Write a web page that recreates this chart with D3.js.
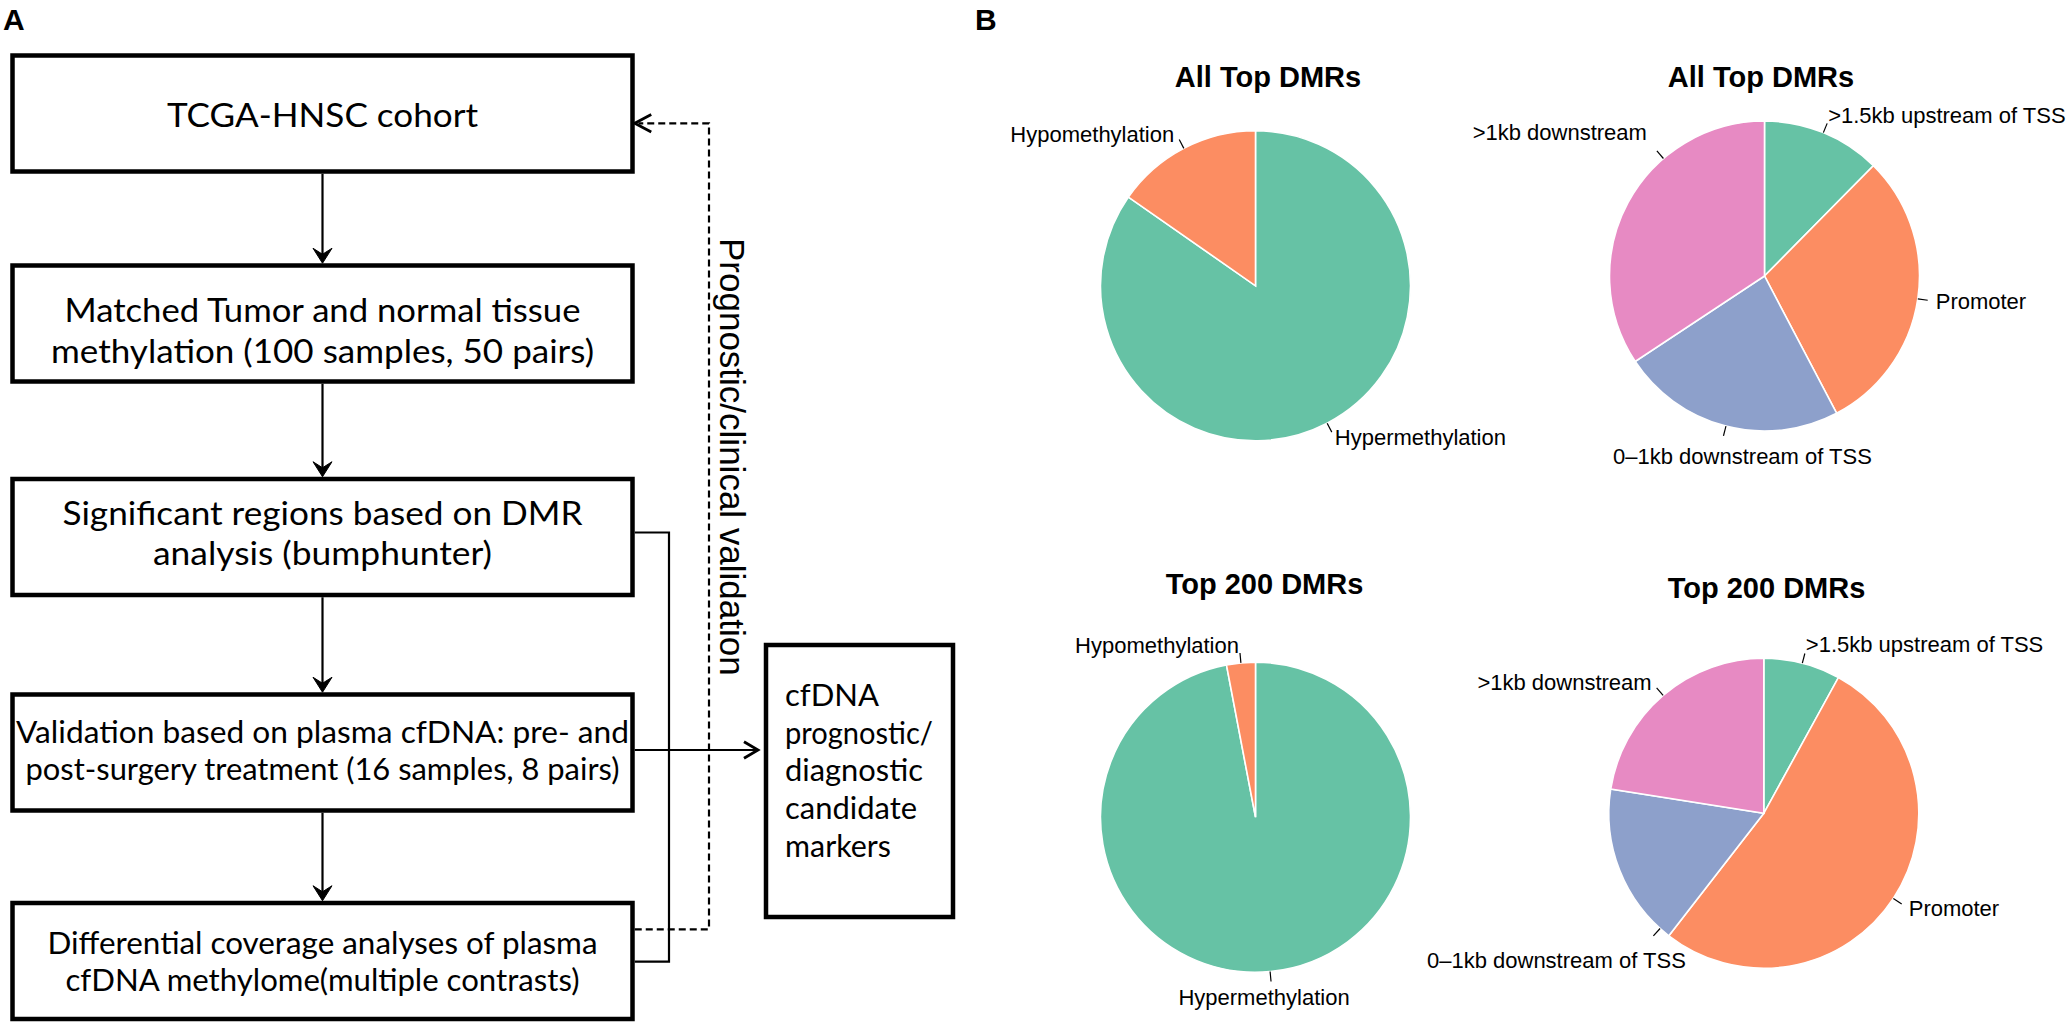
<!DOCTYPE html>
<html>
<head>
<meta charset="utf-8">
<script src="https://cdn.jsdelivr.net/npm/d3@7"></script>
<style>
  html, body { margin: 0; padding: 0; background: #fff; }
  svg { display: block; }
</style>
</head>
<body>
<script>
// ---------------- DATA ----------------
const panelLabels = ["A", "B"];

const flowSteps = [
  ["TCGA-HNSC cohort"],
  ["Matched Tumor and normal tissue", "methylation (100 samples, 50 pairs)"],
  ["Significant regions based on DMR", "analysis (bumphunter)"],
  ["Validation based on plasma cfDNA: pre- and", "post-surgery treatment (16 samples, 8 pairs)"],
  ["Differential coverage analyses of plasma", "cfDNA methylome(multiple contrasts)"]
];
const outcomeLines = ["cfDNA", "prognostic/", "diagnostic", "candidate", "markers"];
const feedbackLabel = "Prognostic/clinical validation";

const pieTitles = ["All Top DMRs", "All Top DMRs", "Top 200 DMRs", "Top 200 DMRs"];
const methCategories = ["Hypermethylation", "Hypomethylation"];
const methAllTop = [84.7, 15.3];
const methTop200 = [194, 6];
const regionCategories = [">1.5kb upstream of TSS", "Promoter", "0\u20131kb downstream of TSS", ">1kb downstream"];
const regionAllTop = [12.4, 29.9, 23.4, 34.3];
const regionTop200 = [16, 105, 34, 45];

// ---------------- LAYOUT ----------------
const W = 2070, H = 1023;
const svg = d3.select("body").append("svg").attr("width", W).attr("height", H);
svg.append("rect").attr("width", W).attr("height", H).attr("fill", "#fff");

const boxFont = "Lato, 'Open Sans', sans-serif";
const labFont = "'Liberation Sans', Arial, sans-serif";

// panel letters
const letterPos = [[3, 30], [975, 30]];
panelLabels.forEach((t, i) => {
  svg.append("text").attr("x", letterPos[i][0]).attr("y", letterPos[i][1])
    .attr("font-family", labFont).attr("font-weight", "bold").attr("font-size", 30)
    .text(t);
});

// ---- Panel A: flow chart ----
const boxX0 = 12.5, boxX1 = 632.5, boxH = 116;
const boxTops = [55.5, 265.5, 479, 694.5, 903];
const boxStroke = 4.5;
const cx = (boxX0 + boxX1) / 2;
// per-line typographic layout: [baseline offset from box top, target width, font size]
const lineLayout = [
  [[71.5, 311, 32]],
  [[56.5, 516, 32], [97.5, 543, 32]],
  [[46, 520, 32], [86, 339, 32]],
  [[48.5, 613, 30], [85.5, 594, 30]],
  [[51, 550, 30], [88, 514, 30]]
];

const gA = svg.append("g");
flowSteps.forEach((lines, i) => {
  const top = boxTops[i];
  gA.append("rect").attr("x", boxX0).attr("y", top)
    .attr("width", boxX1 - boxX0).attr("height", boxH)
    .attr("fill", "none").attr("stroke", "#000").attr("stroke-width", boxStroke);
  lines.forEach((ln, j) => {
    const [off, tw, fs] = lineLayout[i][j];
    gA.append("text").attr("x", cx).attr("y", top + off)
      .attr("text-anchor", "middle")
      .attr("font-family", boxFont).attr("font-size", fs)
      .attr("textLength", tw).attr("lengthAdjust", "spacingAndGlyphs")
      .text(ln);
  });
});

// arrow heads
function stealth(tipX, tipY, dirX, dirY, len, half, notch) {
  const px = -dirY, py = dirX;
  const bx = tipX - dirX * len, by = tipY - dirY * len;
  const nx = tipX - dirX * (len - notch), ny = tipY - dirY * (len - notch);
  return `M${tipX},${tipY} L${bx + px * half},${by + py * half} L${nx},${ny} L${bx - px * half},${by - py * half} Z`;
}
function openHead(tipX, tipY, dirX, dirY, len, half) {
  const px = -dirY, py = dirX;
  const bx = tipX - dirX * len, by = tipY - dirY * len;
  return `M${bx + px * half},${by + py * half} L${tipX},${tipY} L${bx - px * half},${by - py * half}`;
}
for (let i = 0; i < boxTops.length - 1; i++) {
  const y0 = boxTops[i] + boxH + boxStroke / 2;
  const y1 = boxTops[i + 1] - boxStroke / 2;
  gA.append("line").attr("x1", cx).attr("x2", cx).attr("y1", y0).attr("y2", y1 - 4)
    .attr("stroke", "#000").attr("stroke-width", 2.2);
  gA.append("path").attr("d", stealth(cx, y1, 0, 1, 15, 9.5, 6))
    .attr("fill", "#000").attr("stroke", "#000").attr("stroke-width", 1);
}

// outcome box
const outX0 = 766, outX1 = 953, outY0 = 645, outY1 = 917;
gA.append("rect").attr("x", outX0).attr("y", outY0)
  .attr("width", outX1 - outX0).attr("height", outY1 - outY0)
  .attr("fill", "none").attr("stroke", "#000").attr("stroke-width", boxStroke);
const outWidths = [94, 148, 138, 132, 106];
const outBase0 = 706, outStep = 37.7;
outcomeLines.forEach((ln, j) => {
  gA.append("text").attr("x", 785).attr("y", outBase0 + j * outStep)
    .attr("font-family", boxFont).attr("font-size", 30)
    .attr("textLength", outWidths[j]).attr("lengthAdjust", "spacingAndGlyphs")
    .text(ln);
});

// horizontal arrow from validation box to outcome box
const arrowY = 750;
gA.append("line").attr("x1", boxX1 + boxStroke / 2).attr("x2", 757).attr("y1", arrowY).attr("y2", arrowY)
  .attr("stroke", "#000").attr("stroke-width", 2.2);
gA.append("path").attr("d", openHead(758, arrowY, 1, 0, 14, 8.3))
  .attr("fill", "none").attr("stroke", "#000").attr("stroke-width", 2.8);

// solid bracket linking DMR box and coverage box
const bracketX = 669;
gA.append("path")
  .attr("d", `M${boxX1 + boxStroke / 2},532.5 H${bracketX} V961.7 H${boxX1 + boxStroke / 2}`)
  .attr("fill", "none").attr("stroke", "#000").attr("stroke-width", 2.2);

// dashed feedback line
const dashX = 709;
gA.append("path")
  .attr("d", `M${boxX1 + boxStroke / 2},929.3 H${dashX} V123.3 H${boxX1 + 6}`)
  .attr("fill", "none").attr("stroke", "#000").attr("stroke-width", 2.2)
  .attr("stroke-dasharray", "7,4");
gA.append("path").attr("d", openHead(boxX1 + boxStroke / 2, 123.3, -1, 0, 16.5, 8.8))
  .attr("fill", "none").attr("stroke", "#000").attr("stroke-width", 2.8);

gA.append("text")
  .attr("transform", "translate(720,238) rotate(90)")
  .attr("font-family", labFont).attr("font-size", 35)
  .text(feedbackLabel);

// ---- Panel B: pies ----
const R = 155;
const pies = [
  { title: pieTitles[0], cats: methCategories, vals: methAllTop, colors: ["#66c2a5", "#fc8d62"],
    cx: 1255.5, cy: 285.8, titleX: 1268, titleY: 87,
    labels: [ {dx: 3, dy: 13, anchor: "start"}, {dx: -5, dy: 2, anchor: "end"} ] },
  { title: pieTitles[1], cats: regionCategories, vals: regionAllTop, colors: d3.schemeSet2.slice(0, 4),
    cx: 1764.5, cy: 276, titleX: 1761, titleY: 87,
    labels: [ {dx: 1, dy: 0, anchor: "start"}, {dx: 8, dy: 9, anchor: "start"},
              {dx: 19, dy: 28, anchor: "middle"}, {angle: 319.3, dx: -10, dy: -11, anchor: "end"} ] },
  { title: pieTitles[2], cats: methCategories, vals: methTop200, colors: ["#66c2a5", "#fc8d62"],
    cx: 1255.5, cy: 817.2, titleX: 1264.5, titleY: 594,
    labels: [ {dx: -7, dy: 23.5, anchor: "middle"}, {dx: -1, dy: 0, anchor: "end"} ] },
  { title: pieTitles[3], cats: regionCategories, vals: regionTop200, colors: d3.schemeSet2.slice(0, 4),
    cx: 1763.8, cy: 813.3, titleX: 1766.5, titleY: 598,
    labels: [ {dx: 1, dy: -1, anchor: "start"}, {dx: 7, dy: 12, anchor: "start"},
              {angle: 222, dx: -97, dy: 32, anchor: "middle"}, {dx: -5, dy: 2, anchor: "end"} ] }
];

const pieGen = d3.pie().sort(null).value(d => d.v);
const arcGen = d3.arc().innerRadius(0).outerRadius(R);

pies.forEach(p => {
  const g = svg.append("g").attr("transform", `translate(${p.cx},${p.cy})`);
  const color = d3.scaleOrdinal().domain(p.cats).range(p.colors);
  const data = pieGen(p.cats.map((c, i) => ({ c, v: p.vals[i] })));
  g.selectAll("path.slice").data(data).join("path")
    .attr("class", "slice")
    .attr("d", arcGen)
    .attr("fill", d => color(d.data.c))
    .attr("stroke", "#fff").attr("stroke-width", 1.6);

  data.forEach((d, i) => {
    const spec = p.labels[i];
    const a = spec.angle != null ? spec.angle * Math.PI / 180 : (d.startAngle + d.endAngle) / 2;
    const sx = Math.sin(a), sy = -Math.cos(a);
    const x0 = sx * R, y0 = sy * R, x1 = sx * (R + 10), y1 = sy * (R + 10);
    g.append("line").attr("x1", x0).attr("y1", y0).attr("x2", x1).attr("y2", y1)
      .attr("stroke", "#000").attr("stroke-width", 1.2);
    g.append("text").attr("x", x1 + spec.dx).attr("y", y1 + spec.dy)
      .attr("text-anchor", spec.anchor)
      .attr("font-family", labFont).attr("font-size", 22)
      .text(d.data.c);
  });

  svg.append("text").attr("x", p.titleX).attr("y", p.titleY)
    .attr("text-anchor", "middle")
    .attr("font-family", labFont).attr("font-weight", "bold").attr("font-size", 29)
    .text(p.title);
});
</script>
</body>
</html>
